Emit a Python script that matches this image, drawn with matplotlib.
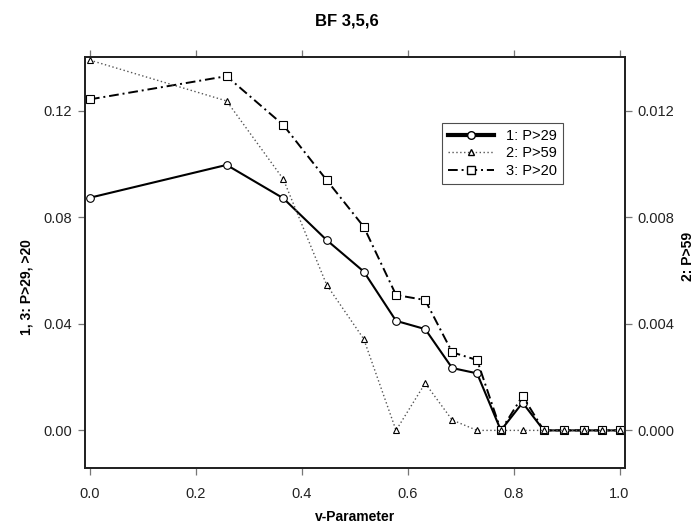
import matplotlib
matplotlib.use("Agg")
import matplotlib.pyplot as plt
from matplotlib.lines import Line2D

plt.rcParams['font.family'] = ['Liberation Sans', 'DejaVu Sans']

v_param = [0.0, 0.258, 0.365, 0.447, 0.517, 0.578, 0.633, 0.684, 0.731,
           0.776, 0.817, 0.857, 0.895, 0.932, 0.967, 1.0]
p29 = [0.0873, 0.0996, 0.0871, 0.0714, 0.0596, 0.0411, 0.0380, 0.0234, 0.0214,
       0.0, 0.0104, 0.0, 0.0, 0.0, 0.0, 0.0]
p59 = [0.01389, 0.01236, 0.00943, 0.00546, 0.00343, 0.0, 0.00177, 0.00039, 0.0,
       0.0, 0.0, 0.0, 0.0, 0.0, 0.0, 0.0]
p20 = [0.1242, 0.1329, 0.1146, 0.0939, 0.0764, 0.0508, 0.0489, 0.0293, 0.0264,
       0.0, 0.0129, 0.0, 0.0, 0.0, 0.0, 0.0]

labels = ["1: P>29", "2: P>59", "3: P>20"]
xticks = [0.0, 0.2, 0.4, 0.6, 0.8, 1.0]
yticks_left = [0.00, 0.04, 0.08, 0.12]
yticks_right = [0.000, 0.004, 0.008, 0.012]

fig = plt.figure(figsize=(6.94, 5.27), dpi=100)
ax = fig.add_axes([0.122, 0.112, 0.7786, 0.7804])
ax2 = ax.twinx()

ylo, yhi = -0.0141, 0.1402
ax.set_xlim(-0.010, 1.0104)
ax.set_ylim(ylo, yhi)
ax2.set_ylim(ylo / 10, yhi / 10)

l1, = ax.plot(v_param, p29, color='black', lw=1.5, marker='o', ms=5.5,
              mfc='white', mec='black', mew=0.8, zorder=3)
l3, = ax.plot(v_param, p20, color='black', lw=1.4, ls=(0, (5, 2, 1, 2)),
              marker='s', ms=5.5, mfc='white', mec='black', mew=0.8, zorder=4)
l2, = ax2.plot(v_param, p59, color='#555555', lw=1.0, ls=(0, (1, 1.8)),
               marker='^', ms=4.5, mfc='white', mec='black', mew=0.8, zorder=2)

ax.set_xticks(xticks)
ax.set_xticklabels([f"{t:.1f}" for t in xticks])
ax.set_yticks(yticks_left)
ax.set_yticklabels([f"{t:.2f}" for t in yticks_left])
ax2.set_yticks(yticks_right)
ax2.set_yticklabels([f"{t:.3f}" for t in yticks_right])

for a in (ax, ax2):
    for s in a.spines.values():
        s.set_linewidth(1.3)
        s.set_color('#222222')
    a.tick_params(direction='out', length=5, width=0.9, color='#777777',
                  labelsize=10.5, labelcolor='#222222', pad=4)
ax.tick_params(axis='x', top=True, labeltop=False, pad=9)

ax.set_xlabel("v-Parameter", fontsize=10, fontweight='bold')
ax.xaxis.set_label_coords(0.5, -0.101)
ax.set_ylabel("1, 3: P>29, >20", fontsize=10, fontweight='bold')
ax.yaxis.set_label_coords(-0.094, 0.44)
ax2.set_ylabel("2: P>59", fontsize=10, fontweight='bold', rotation=90)
ax2.yaxis.set_label_coords(1.104, 0.514)
fig.suptitle("BF 3,5,6", fontsize=12, fontweight='bold', x=0.5, y=0.975)

h1 = Line2D([], [], color='black', lw=3, marker='o', ms=5.5, mfc='white', mec='black')
h2 = Line2D([], [], color='#555555', lw=1.0, ls=(0, (1, 1.8)), marker='^', ms=4.5, mfc='white', mec='black')
h3 = Line2D([], [], color='black', lw=1.4, ls=(0, (5, 2, 1, 2)), marker='s', ms=5.5, mfc='white', mec='black')
leg = ax2.legend([h1, h2, h3], labels, loc='upper left',
                 bbox_to_anchor=(442 / 694, 1 - 123 / 527), bbox_transform=fig.transFigure,
                 fontsize=10.5, frameon=True, fancybox=False, edgecolor='#222222',
                 handlelength=3.2, handletextpad=0.8, borderpad=0.4, labelspacing=0.25,
                 borderaxespad=0)
leg.get_frame().set_linewidth(0.8)

fig.savefig("out.png", dpi=100)
